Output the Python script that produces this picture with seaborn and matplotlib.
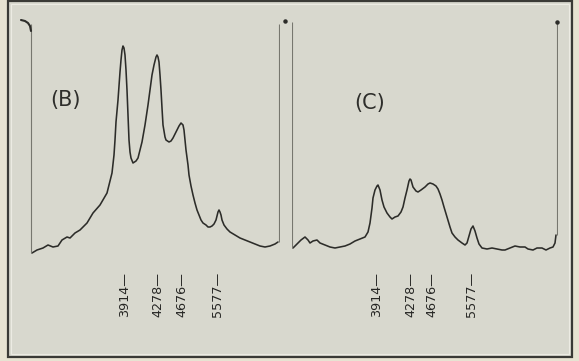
"""
Spectrometer traces (B) and (C) with emission-line markers.
"""
import matplotlib
matplotlib.use('Agg')
import matplotlib.pyplot as plt
from matplotlib.patches import Rectangle
import pandas as pd
import seaborn as sns

# --- data: scan position vs. recorded intensity (arbitrary units) ---
b_pos = [2, 7, 13, 18, 23, 28, 32, 37, 40, 45, 50, 57, 63, 70, 77, 82, 84,
         85, 86, 88, 90, 91, 92, 93, 94, 95, 96, 97, 98, 99, 100, 101, 103,
         106, 108, 110, 112, 115, 118, 120, 122, 124, 126, 127, 128, 129,
         130, 131, 132, 133, 135, 136, 139, 141, 143, 145, 147, 149, 151,
         153, 154, 155, 156, 158, 159, 161, 163, 165, 167, 169, 171, 173,
         176, 178, 180, 182, 184, 186, 187, 188, 189, 190, 191, 192, 194,
         197, 200, 205, 210, 215, 220, 225, 230, 235, 240, 245, 248]
b_int = [-1, 2, 4, 7, 5, 6, 12, 15, 14, 19, 22, 29, 39, 47, 59, 79, 97,
         112, 130, 152, 180, 192, 202, 206, 204, 197, 182, 162, 137, 112,
         100, 94, 89, 91, 94, 102, 110, 127, 147, 162, 177, 187, 195, 197,
         195, 190, 177, 162, 144, 127, 115, 112, 110, 111, 114, 118, 122,
         126, 129, 127, 122, 112, 102, 87, 77, 66, 57, 49, 42, 37, 32, 29,
         27, 25, 25, 26, 28, 32, 36, 40, 42, 40, 37, 32, 27, 23, 20, 17,
         14, 12, 10, 8, 6, 5, 6, 8, 10]

c_pos = [1, 5, 9, 13, 16, 18, 21, 25, 28, 33, 38, 43, 48, 53, 58, 63, 68,
         73, 76, 78, 80, 81, 83, 85, 86, 88, 90, 92, 95, 98, 100, 103, 106,
         109, 111, 113, 115, 117, 118, 119, 121, 124, 126, 129, 133, 136,
         138, 141, 144, 146, 148, 150, 152, 155, 158, 160, 163, 166, 170,
         173, 175, 177, 179, 181, 183, 185, 187, 190, 195, 200, 205, 210,
         213, 218, 223, 228, 233, 236, 241, 245, 250, 254, 258, 261, 263, 264]
c_int = [2, 6, 10, 13, 10, 7, 9, 10, 7, 5, 3, 2, 3, 4, 6, 9, 11, 13, 18,
         27, 42, 52, 60, 64, 65, 60, 50, 43, 37, 33, 31, 33, 34, 38, 43, 52,
         60, 69, 71, 70, 63, 59, 58, 60, 63, 66, 67, 66, 64, 61, 56, 50, 43,
         33, 23, 17, 13, 10, 7, 5, 7, 14, 21, 24, 19, 12, 6, 2, 1, 2, 1, 0,
         0, 2, 4, 3, 3, 1, 0, 2, 2, 0, 2, 3, 7, 15]

# emission lines (Angstrom) and where they fall on each scan
line_labels = ['3914', '4278', '4676', '5577']
b_line_pos = [95, 128, 152, 188]
c_line_pos = [85, 119, 140, 180]

# scan end markers: (left edge, right edge, top of edge)
b_edges = [1.5, 249]
c_edges = [0, 265]
edge_top = 228

# pen hook at the start of scan B
hook_pos = [-9, -5, -2, 0, 1]
hook_int = [232, 231, 229, 226, 221]

# --- styling ---
W, H = 579, 361
PAPER = '#e7e3d2'
PLATE = '#d8d8ce'
INK = '#2c2c29'
EDGE_INK = '#77776f'

sns.set_style('white')
plt.rcParams['font.family'] = ['DejaVu Sans']

fig = plt.figure(figsize=(W / 100, H / 100), dpi=100, facecolor=PAPER)

# plate and its frame
fig.patches.append(Rectangle((8 / W, 4 / H), 564 / W, 356 / H,
                             transform=fig.transFigure, facecolor=PLATE,
                             edgecolor='#3a3a36', lw=1.6, zorder=-5))
fig.patches.append(Rectangle((11 / W, 7 / H), 558 / W, 350 / H,
                             transform=fig.transFigure, facecolor='none',
                             edgecolor='#ecebe3', lw=0.8, zorder=-4))


def make_panel(px_left, px_width, xlim, ylim, pos, inten, edges, line_pos,
               tag, tag_xy):
    ax = fig.add_axes([px_left / W, 1 - 262 / H, px_width / W, 247 / H])
    ax.set_facecolor('none')
    ax.set_zorder(2)
    df = pd.DataFrame({'pos': pos, 'intensity': inten})
    sns.lineplot(data=df, x='pos', y='intensity', ax=ax, color=INK,
                 lw=1.15, sort=False, estimator=None)
    ax.vlines(edges, [inten[0], inten[-1]], edge_top, color=EDGE_INK, lw=0.8)
    ax.set_xlim(*xlim)
    ax.set_ylim(*ylim)
    ax.set_xticks(line_pos, [s + '\u2014' for s in line_labels])
    ax.tick_params(axis='x', length=0, pad=7, labelsize=9.2,
                   labelcolor='#262624', labelrotation=90)
    ax.set_yticks([])
    ax.set_xlabel('')
    ax.set_ylabel('')
    sns.despine(ax=ax, left=True, bottom=True)
    ax.text(tag_xy[0], tag_xy[1], tag, fontsize=15, color='#2e2e2b',
            ha='center', va='center')
    return ax


ax_b = make_panel(30, 250, (0, 250), (-10, 237), b_pos, b_int, b_edges,
                  b_line_pos, '(B)', (35, 152))
ax_b.plot(hook_pos, hook_int, color=INK, lw=1.5, clip_on=False,
          solid_capstyle='round')
ax_b.plot([255], [231], 'o', ms=2.2, color=INK, clip_on=False)

ax_c = make_panel(292, 266, (0, 266), (-12, 235), c_pos, c_int, c_edges,
                  c_line_pos, '(C)', (78, 147))
ax_c.plot([265], [228], 'o', ms=2.2, color=INK, clip_on=False)

fig.savefig('out.png', dpi=100, facecolor=PAPER)
plt.close(fig)
